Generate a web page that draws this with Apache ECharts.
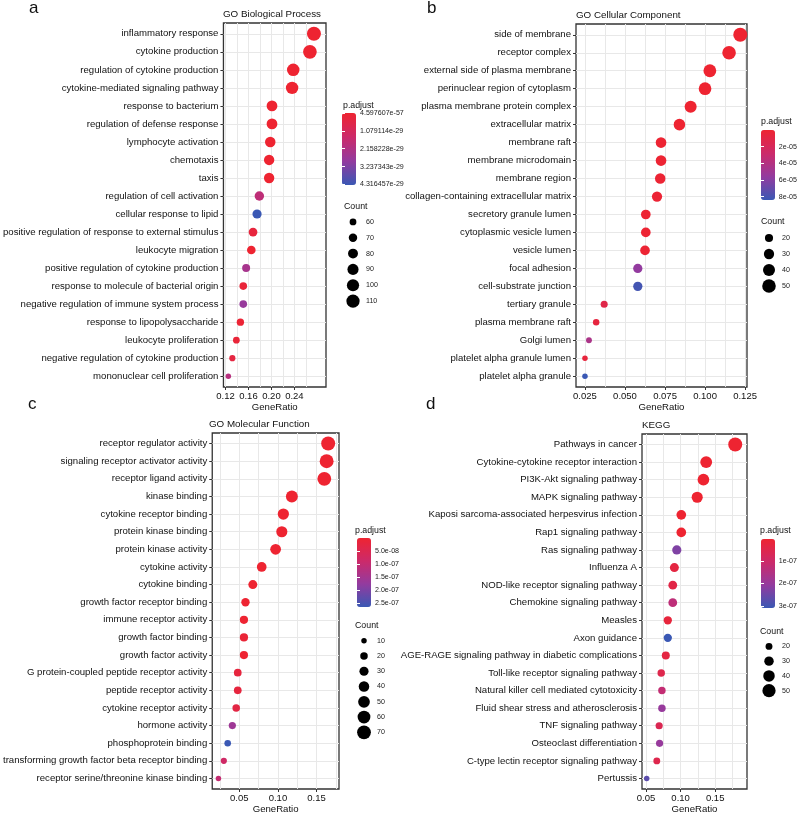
<!DOCTYPE html>
<html>
<head>
<meta charset="utf-8">
<script src="https://cdn.jsdelivr.net/npm/echarts@6/dist/echarts.min.js"></script>
<style>
  html, body { margin: 0; padding: 0; background: #fff; }
  #chart { width: 800px; height: 815px; }
</style>
</head>
<body>
<div id="chart"></div>
<script>
// ---- a: GO Biological Process ----
const bpTerms = ['inflammatory response', 'cytokine production', 'regulation of cytokine production',
  'cytokine-mediated signaling pathway', 'response to bacterium', 'regulation of defense response',
  'lymphocyte activation', 'chemotaxis', 'taxis', 'regulation of cell activation', 'cellular response to lipid',
  'positive regulation of response to external stimulus', 'leukocyte migration',
  'positive regulation of cytokine production', 'response to molecule of bacterial origin',
  'negative regulation of immune system process', 'response to lipopolysaccharide', 'leukocyte proliferation',
  'negative regulation of cytokine production', 'mononuclear cell proliferation'];
const bpRatio = [0.274, 0.267, 0.238, 0.236, 0.201, 0.201, 0.198, 0.196, 0.196, 0.179, 0.175, 0.168, 0.165, 0.156, 0.151, 0.151, 0.146, 0.139, 0.132, 0.125];
const bpCount = [118, 115, 103, 102, 87, 87, 85, 84, 84, 77, 75, 72, 71, 67, 65, 65, 63, 60, 57, 54];
const bpPadj = [4.597607e-57, 1e-50, 1e-42, 1e-45, 1e-35, 1e-36, 1e-34, 1e-35, 1e-35, 1.8e-29, 4.35e-29, 3e-30, 1e-31, 2.4e-29, 2e-30, 2.8e-29, 1e-30, 2e-30, 4e-30, 2.0e-29];
const bpXLabels = ['0.12', '0.16', '0.20', '0.24'];
const bpXLines = [0.12, 0.14, 0.16, 0.18, 0.20, 0.22, 0.24, 0.26];
const bpPadjLabels = ['4.597607e-57', '1.079114e-29', '2.158228e-29', '3.237343e-29', '4.316457e-29'];
const bpCountBreaks = [60, 70, 80, 90, 100, 110];

// ---- b: GO Cellular Component ----
const ccTerms = ['side of membrane', 'receptor complex', 'external side of plasma membrane',
  'perinuclear region of cytoplasm', 'plasma membrane protein complex', 'extracellular matrix', 'membrane raft',
  'membrane microdomain', 'membrane region', 'collagen-containing extracellular matrix', 'secretory granule lumen',
  'cytoplasmic vesicle lumen', 'vesicle lumen', 'focal adhesion', 'cell-substrate junction', 'tertiary granule',
  'plasma membrane raft', 'Golgi lumen', 'platelet alpha granule lumen', 'platelet alpha granule'];
const ccRatio = [0.122, 0.115, 0.103, 0.100, 0.091, 0.084, 0.0725, 0.0725, 0.072, 0.070, 0.063, 0.063, 0.0625, 0.058, 0.058, 0.037, 0.032, 0.0275, 0.025, 0.025];
const ccCount = [53, 50, 45, 44, 40, 37, 32, 32, 31, 30, 27, 27, 27, 25, 25, 16, 14, 12, 11, 11];
const ccPadj = [2e-12, 5e-11, 1e-10, 3e-08, 2e-07, 1e-07, 1e-06, 1e-06, 1.5e-06, 2e-06, 1e-06, 1.2e-06, 1.3e-06, 5.6e-05, 8.1e-05, 1.2e-05, 7e-06, 4.4e-05, 6e-06, 8.4e-05];
const ccXLabels = ['0.025', '0.050', '0.075', '0.100', '0.125'];
const ccXLines = [0.025, 0.0375, 0.05, 0.0625, 0.075, 0.0875, 0.1, 0.1125, 0.125];
const ccPadjLabels = ['2e-05', '4e-05', '6e-05', '8e-05'];
const ccCountBreaks = [20, 30, 40, 50];

// ---- c: GO Molecular Function ----
const mfTerms = ['receptor regulator activity', 'signaling receptor activator activity', 'receptor ligand activity',
  'kinase binding', 'cytokine receptor binding', 'protein kinase binding', 'protein kinase activity',
  'cytokine activity', 'cytokine binding', 'growth factor receptor binding', 'immune receptor activity',
  'growth factor binding', 'growth factor activity', 'G protein-coupled peptide receptor activity',
  'peptide receptor activity', 'cytokine receptor activity', 'hormone activity', 'phosphoprotein binding',
  'transforming growth factor beta receptor binding', 'receptor serine/threonine kinase binding'];
const mfRatio = [0.165, 0.163, 0.160, 0.118, 0.107, 0.105, 0.097, 0.079, 0.0675, 0.058, 0.056, 0.056, 0.056, 0.048, 0.048, 0.046, 0.041, 0.035, 0.030, 0.023];
const mfCount = [72, 71, 70, 52, 46, 45, 42, 34, 29, 25, 24, 24, 24, 21, 21, 20, 18, 15, 13, 10];
const mfPadj = [1e-15, 1e-15, 1e-15, 1e-10, 1e-12, 1e-10, 1e-09, 1e-10, 1e-11, 1e-09, 1e-09, 1e-08, 1e-09, 2e-08, 2e-08, 3e-08, 1.6e-07, 2.65e-07, 8e-08, 1.0e-07];
const mfXLabels = ['0.05', '0.10', '0.15'];
const mfXLines = [0.025, 0.05, 0.075, 0.10, 0.125, 0.15, 0.175];
const mfPadjLabels = ['5.0e-08', '1.0e-07', '1.5e-07', '2.0e-07', '2.5e-07'];
const mfCountBreaks = [10, 20, 30, 40, 50, 60, 70];

// ---- d: KEGG ----
const keggTerms = ['Pathways in cancer', 'Cytokine-cytokine receptor interaction', 'PI3K-Akt signaling pathway',
  'MAPK signaling pathway', 'Kaposi sarcoma-associated herpesvirus infection', 'Rap1 signaling pathway',
  'Ras signaling pathway', 'Influenza A', 'NOD-like receptor signaling pathway', 'Chemokine signaling pathway',
  'Measles', 'Axon guidance', 'AGE-RAGE signaling pathway in diabetic complications',
  'Toll-like receptor signaling pathway', 'Natural killer cell mediated cytotoxicity',
  'Fluid shear stress and atherosclerosis', 'TNF signaling pathway', 'Osteoclast differentiation',
  'C-type lectin receptor signaling pathway', 'Pertussis'];
const keggRatio = [0.179, 0.137, 0.133, 0.124, 0.101, 0.101, 0.0945, 0.091, 0.0887, 0.0887, 0.0815, 0.0815, 0.0786, 0.072, 0.073, 0.073, 0.069, 0.0696, 0.0656, 0.051];
const keggCount = [55, 42, 41, 38, 31, 31, 29, 28, 27, 27, 25, 25, 24, 22, 22, 22, 21, 21, 20, 16];
const keggPadj = [1e-20, 1e-15, 1e-12, 1e-11, 1e-10, 1e-10, 2.3e-07, 3e-08, 4e-08, 1.3e-07, 2e-08, 3.1e-07, 3e-08, 5e-08, 1.2e-07, 2.0e-07, 6e-08, 2.0e-07, 5e-08, 2.7e-07];
const keggXLabels = ['0.05', '0.10', '0.15'];
const keggXLines = [0.05, 0.075, 0.10, 0.125, 0.15, 0.175];
const keggPadjLabels = ['1e-07', '2e-07', '3e-07'];
const keggCountBreaks = [20, 30, 40, 50];

const FONT = '"Liberation Sans", Arial, sans-serif';
const TEXT = '#111';
const RED_BLUE = ['#EE2431', '#CC2A6A', '#933B9F', '#3A58B4'];
const GRID_LINE = '#E8E8E8';

// layout of each panel: plot box [left, top, width, height], colour bar [left, top, height],
// count keys [centre x, top, height]
const panels = [
  { letter: 'a', title: 'GO Biological Process', terms: bpTerms, ratio: bpRatio, count: bpCount, padj: bpPadj,
    xLabels: bpXLabels, xLines: bpXLines, xMin: 0.1165, xMax: 0.295, padjLabels: bpPadjLabels, breaks: bpCountBreaks,
    box: [223, 23, 103, 364], letterPos: [29, 8], bar: [342, 113, 72], barTitle: [343, 106], sizeTitle: [344, 207], keys: [353, 214, 95] },
  { letter: 'b', title: 'GO Cellular Component', terms: ccTerms, ratio: ccRatio, count: ccCount, padj: ccPadj,
    xLabels: ccXLabels, xLines: ccXLines, xMin: 0.0194, xMax: 0.1262, padjLabels: ccPadjLabels, breaks: ccCountBreaks,
    box: [576, 24, 171, 363], letterPos: [427, 8], bar: [761, 130, 70], barTitle: [761, 122], sizeTitle: [761, 222], keys: [769, 230, 64] },
  { letter: 'c', title: 'GO Molecular Function', terms: mfTerms, ratio: mfRatio, count: mfCount, padj: mfPadj,
    xLabels: mfXLabels, xLines: mfXLines, xMin: 0.015, xMax: 0.179, padjLabels: mfPadjLabels, breaks: mfCountBreaks,
    box: [209, 433, 130, 356], letterPos: [28, 404], bar: [357, 538, 69], barTitle: [355, 531], sizeTitle: [355, 626], keys: [364, 633, 107] },
  { letter: 'd', title: 'KEGG', terms: keggTerms, ratio: keggRatio, count: keggCount, padj: keggPadj,
    xLabels: keggXLabels, xLines: keggXLines, xMin: 0.0442, xMax: 0.196, padjLabels: keggPadjLabels, breaks: keggCountBreaks,
    box: [642, 434, 105, 358], letterPos: [426, 404], bar: [761, 539, 69], barTitle: [760, 531], sizeTitle: [760, 632], keys: [769, 639, 59] }
];

// ggplot-like area scale for the dots
function dotSize (c, range) {
  const t = (c - range[0]) / (range[1] - range[0]);
  return Math.sqrt(5.5 * 5.5 + (14 * 14 - 5.5 * 5.5) * t);
}

function nearestLabel (v, values, labels) {
  let best = 0;
  values.forEach((x, k) => { if (Math.abs(x - v) < Math.abs(values[best] - v)) best = k; });
  return labels[best];
}

const option = {
  animation: false,
  textStyle: { fontFamily: FONT },
  grid: [], xAxis: [], yAxis: [], series: [], visualMap: [],
  graphic: { elements: [] }
};

function txt (x, y, text, size, align) {
  return {
    type: 'text', x: x, y: y, silent: true,
    style: { text: text, fontSize: size, fontFamily: FONT, fill: TEXT,
      align: align || 'left', verticalAlign: 'middle', textAlign: align || 'left', textVerticalAlign: 'middle' }
  };
}

panels.forEach(p => {
  const n = p.terms.length;
  const rows = p.terms.map((t, k) => k + 1);
  const countRange = [Math.min(...p.count), Math.max(...p.count)];
  const padjMin = Math.min(...p.padj);
  const padjMax = Math.max(...p.padj);
  const xVals = p.xLabels.map(Number);
  const padjVals = p.padjLabels.map(Number);

  // main plot
  const g = option.grid.length;
  option.grid.push({ left: p.box[0], top: p.box[1], width: p.box[2], height: p.box[3],
    show: true, borderColor: '#333', borderWidth: 1.3, backgroundColor: '#fff' });
  const xi = option.xAxis.length;
  option.xAxis.push({
    type: 'value', gridIndex: g, position: 'bottom', min: p.xMin, max: p.xMax,
    axisLine: { show: false },
    axisTick: { show: false, customValues: p.xLines },
    axisLabel: { show: false },
    splitLine: { show: true, lineStyle: { color: GRID_LINE, width: 1 } }
  });
  option.xAxis.push({
    type: 'value', gridIndex: g, position: 'bottom', min: p.xMin, max: p.xMax,
    axisLine: { show: false },
    axisTick: { show: true, customValues: xVals, length: 3, lineStyle: { color: '#333' } },
    axisLabel: { customValues: xVals, formatter: v => nearestLabel(v, xVals, p.xLabels),
      fontSize: 9.5, color: TEXT, margin: 4 },
    splitLine: { show: false },
    name: 'GeneRatio', nameLocation: 'middle', nameGap: 15,
    nameTextStyle: { fontSize: 9.6, color: TEXT }
  });
  const yi = option.yAxis.length;
  option.yAxis.push({
    type: 'value', gridIndex: g, inverse: true, min: 0.4, max: n + 0.6,
    axisLine: { show: false },
    axisTick: { show: true, customValues: rows, length: 3, lineStyle: { color: '#333' } },
    axisLabel: { customValues: rows, formatter: v => p.terms[Math.round(v) - 1], fontSize: 9.6, color: TEXT, margin: 5 },
    splitLine: { show: true, lineStyle: { color: GRID_LINE, width: 1 } }
  });
  const si = option.series.length;
  option.series.push({
    type: 'scatter', xAxisIndex: xi, yAxisIndex: yi, z: 3, silent: true,
    data: p.terms.map((t, k) => [p.ratio[k], k + 1, p.count[k], p.padj[k]]),
    symbolSize: v => dotSize(v[2], countRange),
    itemStyle: { opacity: 1 }
  });

  // p.adjust colour bar
  option.visualMap.push({
    type: 'continuous', seriesIndex: si, dimension: 3, min: padjMin, max: padjMax,
    inverse: true, calculable: false, hoverLink: false, padding: 0,
    left: p.bar[0], top: p.bar[1], itemWidth: 14, itemHeight: p.bar[2],
    inRange: { color: RED_BLUE }
  });
  const gb = option.grid.length;
  option.grid.push({ left: p.bar[0], top: p.bar[1], width: 14, height: p.bar[2], show: false });
  option.xAxis.push({ type: 'value', gridIndex: gb, show: false, min: 0, max: 1 });
  option.yAxis.push({
    type: 'value', gridIndex: gb, position: 'right', inverse: true, min: padjMin, max: padjMax, z: 10,
    axisLine: { show: false },
    axisTick: { show: true, inside: true, length: 3, customValues: padjVals, lineStyle: { color: '#fff', width: 1 } },
    axisLabel: { customValues: padjVals, formatter: v => nearestLabel(v, padjVals, p.padjLabels),
      fontSize: 7.1, color: '#222', margin: 4 },
    splitLine: { show: false }
  });
  option.yAxis.push({
    type: 'value', gridIndex: gb, position: 'left', inverse: true, min: padjMin, max: padjMax, z: 10,
    axisLine: { show: false },
    axisTick: { show: true, inside: true, length: 3, customValues: padjVals, lineStyle: { color: '#fff', width: 1 } },
    axisLabel: { show: false },
    splitLine: { show: false }
  });

  // Count size keys
  const gk = option.grid.length;
  option.grid.push({ left: p.keys[0] - 8, top: p.keys[1], width: 16, height: p.keys[2], show: false });
  const kxi = option.xAxis.length;
  option.xAxis.push({ type: 'value', gridIndex: gk, show: false, min: -1, max: 1 });
  const kyi = option.yAxis.length;
  option.yAxis.push({
    type: 'category', gridIndex: gk, position: 'right', inverse: true, data: p.breaks.map(String),
    axisLine: { show: false }, axisTick: { show: false },
    axisLabel: { fontSize: 7.1, color: '#222', margin: 5 },
    splitLine: { show: false }
  });
  option.series.push({
    type: 'scatter', xAxisIndex: kxi, yAxisIndex: kyi, silent: true,
    data: p.breaks.map((c, k) => [0, k, c]),
    symbolSize: v => dotSize(v[2], countRange),
    itemStyle: { color: '#000', opacity: 1 }
  });

  // texts
  option.graphic.elements.push(
    txt(p.letterPos[0], p.letterPos[1], p.letter, 17),
    txt(p.box[0], p.box[1] - 9, p.title, 9.8),
    txt(p.barTitle[0], p.barTitle[1], 'p.adjust', 8.8),
    txt(p.sizeTitle[0], p.sizeTitle[1], 'Count', 8.8)
  );
});

const chart = echarts.init(document.getElementById('chart'));
chart.setOption(option);
</script>
</body>
</html>
